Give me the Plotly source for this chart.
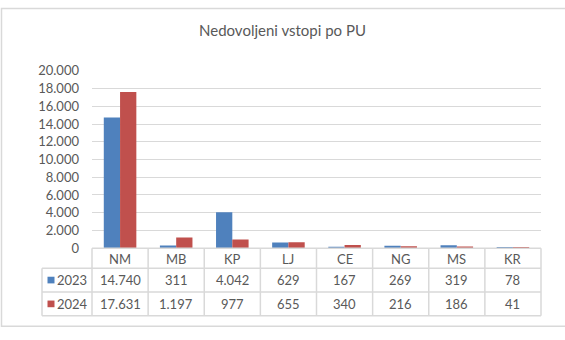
import plotly.graph_objects as go

# Data
categories = ["NM", "MB", "KP", "LJ", "CE", "NG", "MS", "KR"]
series_names = ["2023", "2024"]
values_2023 = [14740, 311, 4042, 629, 167, 269, 319, 78]
values_2024 = [17631, 1197, 977, 655, 340, 216, 186, 41]
y_ticks = list(range(0, 20001, 2000))

colors = ["#4F81BD", "#C0504D"]
text_color = "#595959"
line_color = "#D9D9D9"
font_family = "Lato, Carlito, 'Liberation Sans', sans-serif"

W, H = 565, 340


def px(x):
    return x / W


def py(y):
    return 1 - y / H


def fmt(v):
    return f"{v:,}".replace(",", ".")


# Plot area geometry (pixels)
plot_left, plot_right = 92, 541
plot_top, plot_bottom = 66, 252

fig = go.Figure()
for name, vals, col in zip(series_names, [values_2023, values_2024], colors):
    fig.add_trace(go.Bar(x=categories, y=vals, name=name, marker=dict(color=col, line=dict(width=0))))

fig.update_layout(
    width=W, height=H,
    margin=dict(l=0, r=0, t=0, b=0),
    paper_bgcolor="white", plot_bgcolor="white",
    showlegend=False,
    barmode="group", bargap=0.42, bargroupgap=0.0,
    separators=",.",
    font=dict(family=font_family, color=text_color, size=13),
    title=dict(text="Nedovoljeni vstopi po PU", x=0.5, xanchor="center", y=py(31), yanchor="middle",
               font=dict(size=15, color=text_color, family=font_family)),
    xaxis=dict(domain=[px(plot_left), px(plot_right)], range=[-0.5, len(categories) - 0.5],
               showticklabels=False, showgrid=False, zeroline=False, showline=False, fixedrange=True),
    yaxis=dict(domain=[py(plot_bottom), py(plot_top)], range=[0, 20000], tickvals=y_ticks,
               tickformat=",d", showgrid=True, gridcolor=line_color, gridwidth=1.3,
               zeroline=False, showline=False, ticks="", ticklabelstandoff=12,
               tickfont=dict(size=13, color=text_color)),
)

shapes = []
annotations = []

# Outer chart border
shapes.append(dict(type="rect", xref="paper", yref="paper", x0=px(1.5), x1=px(570), y0=py(334), y1=py(0.5),
                   line=dict(color=line_color, width=1.5), fillcolor="rgba(0,0,0,0)", layer="below"))

# Data table below the plot
n = len(categories)
col_w = (plot_right - plot_left) / n
row_edges = [252, 273, 298, 323]
legend_left = 42
col_edges = [plot_left + i * col_w for i in range(n + 1)]

# horizontal lines
shapes.append(dict(type="line", xref="paper", yref="paper", x0=px(plot_left), x1=px(plot_right),
                   y0=py(row_edges[0]), y1=py(row_edges[0]), line=dict(color=line_color, width=1.5)))
for ry in row_edges[1:]:
    shapes.append(dict(type="line", xref="paper", yref="paper", x0=px(legend_left), x1=px(plot_right),
                       y0=py(ry), y1=py(ry), line=dict(color=line_color, width=1.5)))
# vertical lines
for cx in col_edges:
    shapes.append(dict(type="line", xref="paper", yref="paper", x0=px(cx), x1=px(cx),
                       y0=py(row_edges[0]), y1=py(row_edges[-1]), line=dict(color=line_color, width=1.5)))
shapes.append(dict(type="line", xref="paper", yref="paper", x0=px(legend_left), x1=px(legend_left),
                   y0=py(row_edges[1]), y1=py(row_edges[-1]), line=dict(color=line_color, width=1.5)))

# header row: category names
for i, cat in enumerate(categories):
    cx = plot_left + (i + 0.5) * col_w
    annotations.append(dict(x=px(cx), y=py((row_edges[0] + row_edges[1]) / 2 + 1), xref="paper", yref="paper",
                            text=cat, showarrow=False, xanchor="center", yanchor="middle",
                            font=dict(size=13, color=text_color)))

# value rows with legend keys
for r, (name, vals, col) in enumerate(zip(series_names, [values_2023, values_2024], colors)):
    yc = (row_edges[r + 1] + row_edges[r + 2]) / 2
    shapes.append(dict(type="rect", xref="paper", yref="paper", x0=px(47.5), x1=px(54.5),
                       y0=py(yc + 3.5), y1=py(yc - 3.5), fillcolor=col, line=dict(width=0)))
    annotations.append(dict(x=px(55), y=py(yc), xref="paper", yref="paper", text=name, showarrow=False,
                            xanchor="left", yanchor="middle", font=dict(size=13, color=text_color)))
    for i, v in enumerate(vals):
        cx = plot_left + (i + 0.5) * col_w
        annotations.append(dict(x=px(cx), y=py(yc), xref="paper", yref="paper", text=fmt(v),
                                showarrow=False, xanchor="center", yanchor="middle",
                                font=dict(size=13, color=text_color)))

fig.update_layout(shapes=shapes, annotations=annotations)
fig.write_html("out.html")
